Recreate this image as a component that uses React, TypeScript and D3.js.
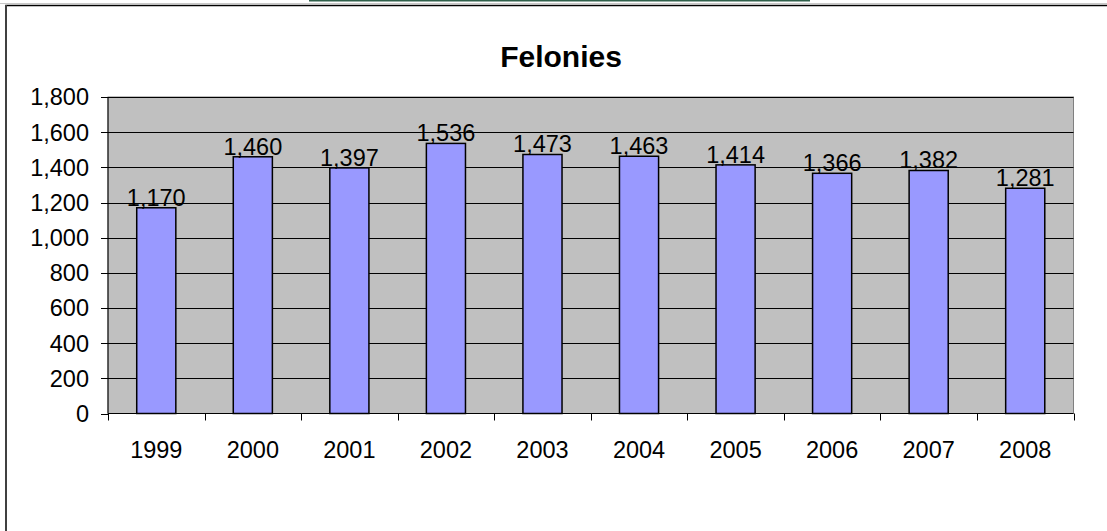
import React from "react";
import * as d3 from "d3";

const years = ["1999", "2000", "2001", "2002", "2003", "2004", "2005", "2006", "2007", "2008"];
const felonies = [1170, 1460, 1397, 1536, 1473, 1463, 1414, 1366, 1382, 1281];
const yTicks = [0, 200, 400, 600, 800, 1000, 1200, 1400, 1600, 1800];
const title = "Felonies";

const W = 1107;
const H = 531;
const plot = { left: 108, right: 1073.5, top: 97, bottom: 413.5 };
const font = "'Liberation Sans', Arial, sans-serif";
const fs = 23.5;

export default function App() {
  const x = d3.scaleBand<string>().domain(years).range([plot.left, plot.right]).paddingInner(0).paddingOuter(0);
  const y = d3.scaleLinear().domain([0, 1800]).range([plot.bottom, plot.top]);
  const fmt = d3.format(",");
  const bw = x.bandwidth();
  const barW = bw * 0.405;

  return (
    <svg
      width={W}
      height={H}
      style={{ position: "fixed", left: 0, top: 0, background: "#ffffff" }}
      fontFamily={font}
    >
      <rect x={0} y={0} width={W} height={H} fill="#ffffff" />
      {/* top decorative lines */}
      <line x1={309} x2={810} y1={0.75} y2={0.75} stroke="#2f5f4a" strokeWidth={1.5} />
      <line x1={0} x2={W} y1={3.5} y2={3.5} stroke="#c8c8c8" strokeWidth={1} />
      {/* chart frame */}
      <rect x={6} y={5.5} width={W + 10} height={H + 10} fill="#ffffff" stroke="#000000" strokeWidth={1.5} />
      <line x1={6} x2={6} y1={5} y2={H} stroke="#404040" strokeWidth={2} />
      {/* title */}
      <text x={561} y={67} textAnchor="middle" fontWeight="bold" fontSize={30}>
        {title}
      </text>
      {/* plot background */}
      <rect x={plot.left} y={plot.top} width={plot.right - plot.left} height={plot.bottom - plot.top} fill="#c0c0c0" stroke="#808080" strokeWidth={1} />
      {/* gridlines */}
      {yTicks.filter((t) => t > 0).map((t) => (
        <line key={"g" + t} x1={plot.left} x2={plot.right} y1={Math.round(y(t)) + 0.5} y2={Math.round(y(t)) + 0.5} stroke="#000000" strokeWidth={1} />
      ))}
      {/* bars */}
      {felonies.map((v, i) => {
        const cx = (x(years[i]) as number) + bw / 2;
        return (
          <rect
            key={"b" + i}
            x={cx - barW / 2}
            y={y(v)}
            width={barW}
            height={y(0) - y(v)}
            fill="#9999ff"
            stroke="#000000"
            strokeWidth={1.5}
          />
        );
      })}
      {/* axes */}
      <line x1={plot.left} x2={plot.left} y1={plot.top} y2={plot.bottom} stroke="#000000" strokeWidth={1} />
      <line x1={plot.left} x2={plot.right} y1={plot.bottom} y2={plot.bottom} stroke="#000000" strokeWidth={1} />
      {yTicks.map((t) => (
        <g key={"yt" + t}>
          <line x1={plot.left - 7} x2={plot.left} y1={Math.round(y(t)) + 0.5} y2={Math.round(y(t)) + 0.5} stroke="#000000" strokeWidth={1} />
          <text x={89} y={y(t)} dy="0.36em" textAnchor="end" fontSize={fs}>
            {fmt(t)}
          </text>
        </g>
      ))}
      {years.map((yr, i) => (
        <line key={"xt" + i} x1={Math.round(x(yr) as number) + 0.5} x2={Math.round(x(yr) as number) + 0.5} y1={plot.bottom} y2={plot.bottom + 7} stroke="#000000" strokeWidth={1} />
      ))}
      <line x1={Math.round(plot.right) + 0.5} x2={Math.round(plot.right) + 0.5} y1={plot.bottom} y2={plot.bottom + 7} stroke="#000000" strokeWidth={1} />
      {years.map((yr) => (
        <text key={"xl" + yr} x={(x(yr) as number) + bw / 2} y={458} textAnchor="middle" fontSize={fs}>
          {yr}
        </text>
      ))}
      {/* data labels */}
      {felonies.map((v, i) => (
        <text key={"dl" + i} x={(x(years[i]) as number) + bw / 2} y={y(v) - 2} textAnchor="middle" fontSize={fs}>
          {fmt(v)}
        </text>
      ))}
    </svg>
  );
}
